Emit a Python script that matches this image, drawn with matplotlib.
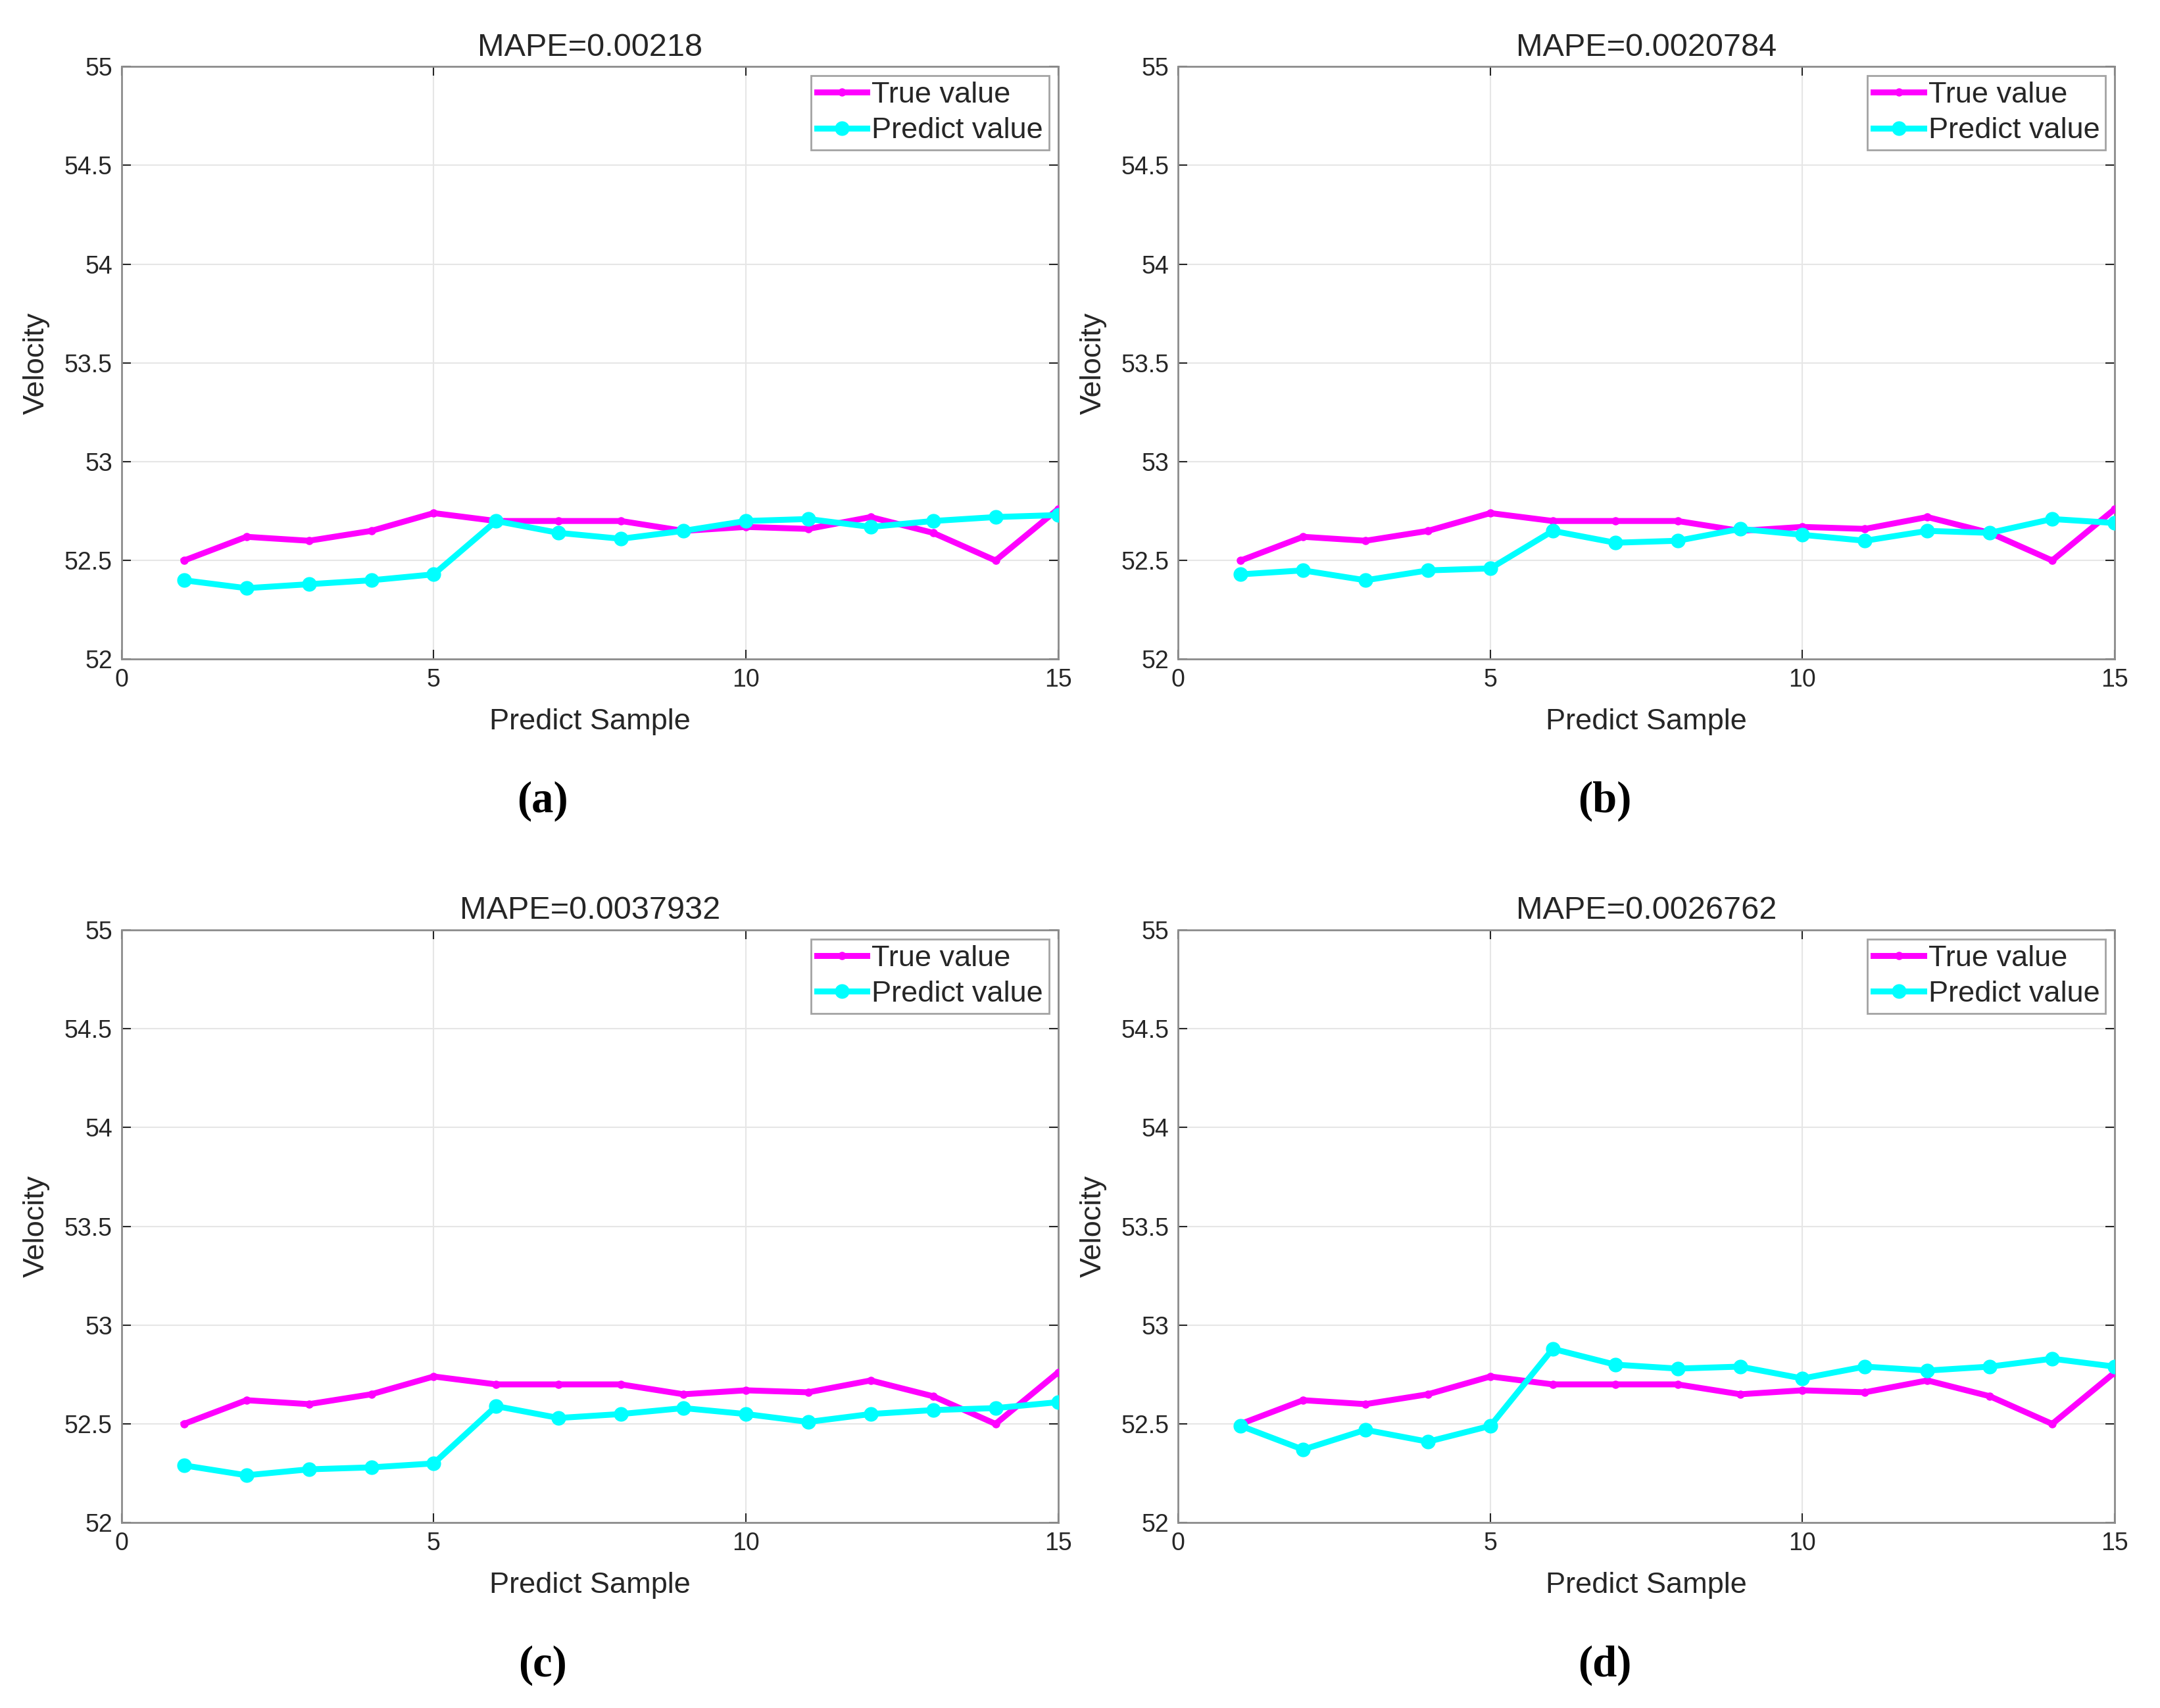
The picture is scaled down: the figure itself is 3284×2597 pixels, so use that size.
import numpy as np
import matplotlib
matplotlib.use("Agg")
import matplotlib.pyplot as plt

plt.rcParams['font.family'] = ['Liberation Sans', 'DejaVu Sans']

samples = np.arange(1, 16)
true_vals = [52.50, 52.62, 52.60, 52.65, 52.74, 52.70, 52.70, 52.70, 52.65,
             52.67, 52.66, 52.72, 52.64, 52.50, 52.76]
pred_a = [52.40, 52.36, 52.38, 52.40, 52.43, 52.70, 52.64, 52.61, 52.65,
          52.70, 52.71, 52.67, 52.70, 52.72, 52.73]
pred_b = [52.43, 52.45, 52.40, 52.45, 52.46, 52.65, 52.59, 52.60, 52.66,
          52.63, 52.60, 52.65, 52.64, 52.71, 52.69]
pred_c = [52.29, 52.24, 52.27, 52.28, 52.30, 52.59, 52.53, 52.55, 52.58,
          52.55, 52.51, 52.55, 52.57, 52.58, 52.61]
pred_d = [52.49, 52.37, 52.47, 52.41, 52.49, 52.88, 52.80, 52.78, 52.79,
          52.73, 52.79, 52.77, 52.79, 52.83, 52.79]
mape_titles = ["MAPE=0.00218", "MAPE=0.0020784", "MAPE=0.0037932", "MAPE=0.0026762"]
panel_tags = ["a", "b", "c", "d"]
preds = [pred_a, pred_b, pred_c, pred_d]

fig = plt.figure(figsize=(32.84, 25.97), dpi=100)

# axes rectangles in figure fractions
lefts = [0.0563, 0.5455, 0.0563, 0.5455]
bottoms = [0.6140, 0.6140, 0.1085, 0.1085]
w, h = 0.4335, 0.347
tag_xy = [(0.2512, 0.531), (0.743, 0.531), (0.2512, 0.025), (0.743, 0.025)]

txt = '#262626'
edge = '#8c8c8c'

for i in range(4):
    ax = fig.add_axes([lefts[i], bottoms[i], w, h])
    ax.plot(samples, true_vals, color='#ff00ff', lw=6.5, marker='o', ms=8,
            label='True value', zorder=3)
    ax.plot(samples, preds[i], color='#00ffff', lw=6.5, marker='o', ms=15,
            label='Predict value', zorder=4)
    ax.set_xlim(0, 15)
    ax.set_ylim(52, 55)
    ax.set_xticks([0, 5, 10, 15])
    ax.set_yticks([52, 52.5, 53, 53.5, 54, 54.5, 55])
    ax.set_yticklabels(['52', '52.5', '53', '53.5', '54', '54.5', '55'])
    ax.grid(True, color='#e6e6e6', lw=1.5)
    ax.set_axisbelow(True)
    ax.tick_params(direction='in', length=10, width=1.5, labelsize=27,
                   colors=txt, top=True, right=True, pad=10)
    for s in ax.spines.values():
        s.set_color(edge)
        s.set_linewidth(2)
    ax.set_title(mape_titles[i], fontsize=35, color=txt, pad=12)
    ax.set_xlabel('Predict Sample', fontsize=32.5, color=txt, labelpad=18)
    ax.set_ylabel('Velocity', fontsize=32.5, color=txt, labelpad=16)
    leg = ax.legend(loc='upper right', fontsize=32.5, frameon=True, fancybox=False,
                    borderpad=0.2, labelspacing=0.3, handlelength=1.7,
                    handletextpad=0.15, borderaxespad=0.3)
    leg.get_frame().set_edgecolor(edge)
    leg.get_frame().set_linewidth(2)
    for t in leg.get_texts():
        t.set_color(txt)
    fig.text(tag_xy[i][0], tag_xy[i][1], '(' + panel_tags[i] + ')', ha='center',
             va='center', fontsize=48, fontweight='bold',
             family=['Liberation Serif', 'DejaVu Serif'])

fig.savefig('out.png', dpi=100, facecolor='white')
